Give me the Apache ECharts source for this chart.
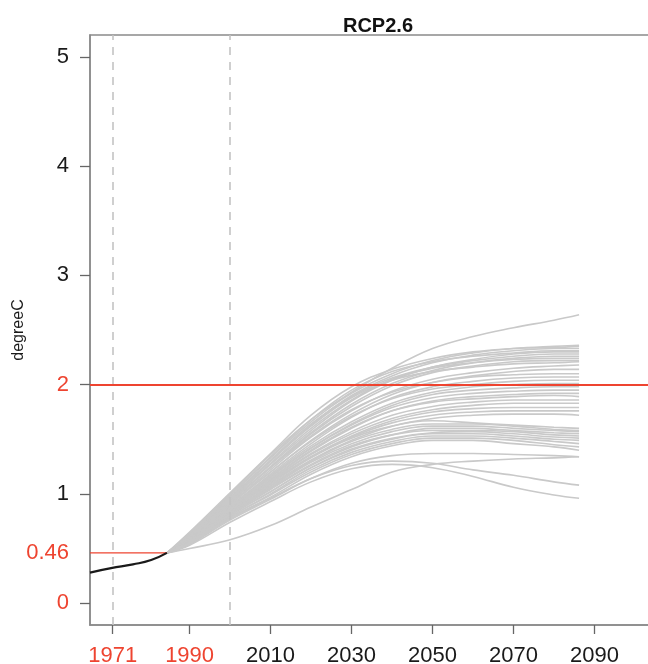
<!DOCTYPE html>
<html>
<head>
<meta charset="utf-8">
<script src="https://cdn.jsdelivr.net/npm/echarts@6/dist/echarts.min.js"></script>
<style>
  html, body { margin: 0; padding: 0; background: #fff; }
  #main { width: 648px; height: 664px; }
</style>
</head>
<body>
<div id="main"></div>
<script>
// observed record (black) and model runs (grey)
let obsYears = [1965.4, 1970.6, 1976, 1980.5, 1984.4];
let obsValues = [0.28, 0.32, 0.355, 0.395, 0.46];

let runYears = [1984.4, 1990, 2000, 2010, 2020, 2030, 2040, 2050, 2060, 2070, 2080, 2086.2];
let runs = [
    [0.46, 0.64, 1.00, 1.36, 1.68, 1.93, 2.15, 2.33, 2.44, 2.52, 2.59, 2.64],
    [0.46, 0.65, 1.01, 1.37, 1.72, 1.98, 2.14, 2.24, 2.30, 2.33, 2.35, 2.36],
    [0.46, 0.63, 0.98, 1.33, 1.66, 1.92, 2.10, 2.22, 2.29, 2.33, 2.34, 2.35],
    [0.46, 0.62, 0.96, 1.30, 1.63, 1.90, 2.08, 2.20, 2.27, 2.31, 2.33, 2.33],
    [0.46, 0.64, 0.99, 1.34, 1.68, 1.95, 2.12, 2.21, 2.26, 2.29, 2.31, 2.31],
    [0.46, 0.61, 0.94, 1.27, 1.58, 1.85, 2.04, 2.16, 2.23, 2.28, 2.30, 2.30],
    [0.46, 0.63, 0.97, 1.31, 1.64, 1.89, 2.06, 2.16, 2.22, 2.26, 2.28, 2.28],
    [0.46, 0.60, 0.93, 1.25, 1.56, 1.82, 2.01, 2.13, 2.20, 2.24, 2.26, 2.26],
    [0.46, 0.62, 0.95, 1.28, 1.60, 1.86, 2.05, 2.15, 2.20, 2.23, 2.24, 2.24],
    [0.46, 0.61, 0.92, 1.24, 1.55, 1.80, 1.99, 2.11, 2.17, 2.21, 2.22, 2.22],
    [0.46, 0.62, 0.96, 1.30, 1.62, 1.88, 2.04, 2.12, 2.16, 2.19, 2.20, 2.21],
    [0.46, 0.60, 0.91, 1.22, 1.52, 1.76, 1.94, 2.05, 2.11, 2.15, 2.17, 2.18],
    [0.46, 0.59, 0.90, 1.20, 1.49, 1.73, 1.91, 2.02, 2.08, 2.12, 2.14, 2.14],
    [0.46, 0.61, 0.93, 1.24, 1.53, 1.77, 1.93, 2.02, 2.07, 2.09, 2.10, 2.10],
    [0.46, 0.58, 0.88, 1.18, 1.46, 1.70, 1.88, 1.98, 2.03, 2.06, 2.07, 2.07],
    [0.46, 0.60, 0.91, 1.20, 1.48, 1.71, 1.87, 1.96, 2.00, 2.03, 2.04, 2.04],
    [0.46, 0.59, 0.89, 1.17, 1.44, 1.66, 1.83, 1.93, 1.98, 2.00, 2.01, 2.01],
    [0.46, 0.58, 0.87, 1.15, 1.42, 1.64, 1.81, 1.91, 1.95, 1.97, 1.98, 1.98],
    [0.46, 0.59, 0.88, 1.16, 1.42, 1.63, 1.79, 1.88, 1.92, 1.94, 1.95, 1.95],
    [0.46, 0.57, 0.86, 1.13, 1.39, 1.60, 1.76, 1.85, 1.89, 1.91, 1.92, 1.92],
    [0.46, 0.58, 0.87, 1.14, 1.40, 1.61, 1.76, 1.84, 1.87, 1.89, 1.90, 1.89],
    [0.46, 0.57, 0.85, 1.12, 1.37, 1.57, 1.72, 1.80, 1.84, 1.86, 1.86, 1.86],
    [0.46, 0.58, 0.86, 1.12, 1.36, 1.55, 1.69, 1.77, 1.81, 1.83, 1.83, 1.83],
    [0.46, 0.56, 0.84, 1.10, 1.34, 1.53, 1.67, 1.75, 1.78, 1.79, 1.79, 1.79],
    [0.46, 0.57, 0.85, 1.11, 1.34, 1.52, 1.65, 1.72, 1.75, 1.76, 1.76, 1.76],
    [0.46, 0.56, 0.83, 1.08, 1.31, 1.49, 1.62, 1.69, 1.72, 1.73, 1.73, 1.72],
    [0.46, 0.57, 0.85, 1.09, 1.33, 1.51, 1.62, 1.67, 1.65, 1.63, 1.61, 1.60],
    [0.46, 0.56, 0.83, 1.07, 1.30, 1.48, 1.59, 1.64, 1.64, 1.62, 1.59, 1.58],
    [0.46, 0.57, 0.83, 1.06, 1.29, 1.46, 1.57, 1.62, 1.62, 1.60, 1.58, 1.57],
    [0.46, 0.55, 0.81, 1.04, 1.26, 1.43, 1.54, 1.60, 1.60, 1.58, 1.56, 1.55],
    [0.46, 0.56, 0.82, 1.05, 1.27, 1.44, 1.54, 1.58, 1.58, 1.57, 1.54, 1.53],
    [0.46, 0.55, 0.80, 1.02, 1.24, 1.41, 1.51, 1.56, 1.57, 1.55, 1.52, 1.51],
    [0.46, 0.56, 0.81, 1.02, 1.24, 1.40, 1.50, 1.55, 1.55, 1.53, 1.50, 1.49],
    [0.46, 0.54, 0.79, 1.00, 1.22, 1.38, 1.48, 1.53, 1.53, 1.51, 1.48, 1.46],
    [0.46, 0.55, 0.79, 0.99, 1.20, 1.36, 1.46, 1.51, 1.51, 1.49, 1.45, 1.43],
    [0.46, 0.54, 0.78, 0.97, 1.18, 1.34, 1.44, 1.49, 1.49, 1.46, 1.43, 1.40],
    [0.46, 0.54, 0.76, 0.95, 1.14, 1.28, 1.35, 1.37, 1.37, 1.36, 1.35, 1.34],
    [0.46, 0.55, 0.77, 0.96, 1.14, 1.26, 1.30, 1.28, 1.22, 1.17, 1.11, 1.08],
    [0.46, 0.53, 0.74, 0.93, 1.11, 1.23, 1.27, 1.24, 1.16, 1.06, 0.99, 0.96],
    [0.46, 0.50, 0.58, 0.71, 0.88, 1.04, 1.20, 1.27, 1.30, 1.32, 1.33, 1.34]
];

let xTicks = [1971, 1990, 2010, 2030, 2050, 2070, 2090];
let yTicks = [0, 1, 2, 3, 4, 5];
let yLabels = [0, 0.46, 1, 2, 3, 4, 5];
let redX = [1971, 1990];
let redY = [0, 0.46, 2];
let dashedYears = [1971, 2000];
let target = 2;
let baseline = 0.46;

let red = '#ee4430';
let font = 'Liberation Sans, Arial, Helvetica, sans-serif';

let series = runs.map(function (vals) {
    return {
        type: 'line',
        data: vals.map(function (v, i) { return [runYears[i], v]; }),
        smooth: 0.4,
        showSymbol: false,
        silent: true,
        lineStyle: {color: '#c9c9c9', width: 1.6},
        z: 2
    };
});

series.push({
    type: 'line',
    data: [[obsYears[0], baseline], [obsYears[obsYears.length - 1], baseline]],
    showSymbol: false,
    silent: true,
    lineStyle: {color: red, width: 1.3},
    z: 3
});

series.push({
    type: 'line',
    data: obsValues.map(function (v, i) { return [obsYears[i], v]; }),
    smooth: 0.5,
    showSymbol: false,
    silent: true,
    lineStyle: {color: '#1a1a1a', width: 2.2},
    z: 4,
    markLine: {
        silent: true,
        symbol: 'none',
        label: {show: false},
        lineStyle: {color: '#c4c4c4', width: 1.6, type: [8, 7]},
        data: dashedYears.map(function (y) { return {xAxis: y}; })
    }
});

series.push({
    type: 'line',
    data: [],
    z: 5,
    markLine: {
        silent: true,
        symbol: 'none',
        label: {show: false},
        lineStyle: {color: red, width: 2, type: 'solid'},
        data: [{yAxis: target}]
    }
});

let option = {
    animation: false,
    title: {
        text: 'RCP2.6',
        left: 373,
        textAlign: 'center',
        top: 11,
        textStyle: {fontFamily: font, fontSize: 20, fontWeight: 'bold', color: '#111'}
    },
    grid: {
        left: 90, right: -8, top: 35, bottom: 39,
        outerBoundsMode: 'none',
        containLabel: false,
        show: true, borderColor: '#8a8a8a', borderWidth: 1.5
    },
    xAxis: {
        type: 'value',
        min: 1965.4,
        max: 2105.2,
        splitLine: {show: false},
        axisLine: {show: true, onZero: false, lineStyle: {color: '#8a8a8a', width: 1.5}},
        axisTick: {show: true, length: 9, customValues: xTicks, lineStyle: {color: '#666', width: 1.3}},
        axisLabel: {
            customValues: xTicks,
            margin: 20,
            fontFamily: font,
            fontSize: 22,
            formatter: function (v) { return String(v); },
            color: function (v) { return redX.indexOf(Number(v)) >= 0 ? red : '#1a1a1a'; }
        }
    },
    yAxis: {
        type: 'value',
        min: -0.2,
        max: 5.2,
        name: 'degreeC',
        nameLocation: 'middle',
        nameRotate: 90,
        nameGap: 63,
        nameMoveOverlap: false,
        nameTextStyle: {fontFamily: font, fontSize: 16, color: '#1a1a1a'},
        splitLine: {show: false},
        axisLine: {show: true, onZero: false, lineStyle: {color: '#8a8a8a', width: 1.5}},
        axisTick: {show: true, length: 10, customValues: yTicks, lineStyle: {color: '#666', width: 1.3}},
        axisLabel: {
            customValues: yLabels,
            margin: 21,
            fontFamily: font,
            fontSize: 22,
            formatter: function (v) { return String(v); },
            color: function (v) { return redY.indexOf(Number(v)) >= 0 ? red : '#1a1a1a'; }
        }
    },
    series: series
};

let chart = echarts.init(document.getElementById('main'));
chart.setOption(option);
</script>
</body>
</html>
